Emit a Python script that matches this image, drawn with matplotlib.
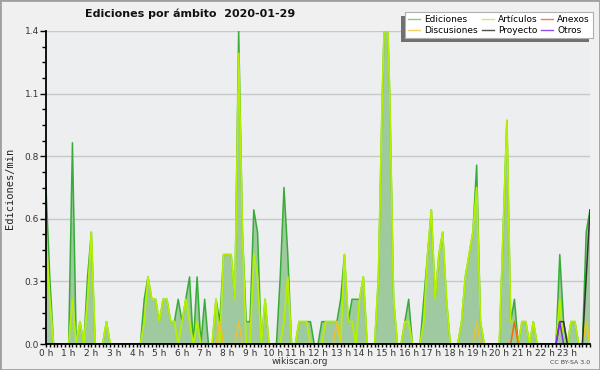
import numpy as np
import matplotlib.pyplot as plt
from matplotlib.lines import Line2D
from matplotlib.patches import Rectangle
from matplotlib.ticker import MultipleLocator, FormatStrFormatter, FixedLocator

# ediciones / min, one value every 10 minutes, from 00:00 to 24:00
ediciones = [
    0.7, 0.3, 0, 0, 0, 0,          # 0 h
    0, 0.9, 0, 0.1, 0, 0.3,        # 1 h
    0.5, 0, 0, 0, 0.1, 0,          # 2 h
    0, 0, 0, 0, 0, 0,              # 3 h
    0, 0, 0.2, 0.3, 0.2, 0.2,      # 4 h
    0.1, 0.2, 0.2, 0.1, 0.1, 0.2,  # 5 h
    0.1, 0.2, 0.3, 0, 0.3, 0,      # 6 h
    0.2, 0, 0, 0.2, 0.1, 0.4,      # 7 h
    0.4, 0.4, 0.2, 1.4, 0.5, 0.1,  # 8 h
    0.1, 0.6, 0.5, 0, 0.2, 0,      # 9 h
    0, 0, 0.3, 0.7, 0.4, 0,        # 10 h
    0, 0.1, 0.1, 0.1, 0.1, 0,      # 11 h
    0, 0.1, 0.1, 0.1, 0.1, 0.1,    # 12 h
    0.2, 0.4, 0.1, 0.2, 0.2, 0.2,  # 13 h
    0.3, 0, 0, 0, 0.3, 1.1,        # 14 h
    1.7, 1.1, 0.2, 0, 0, 0.1,      # 15 h
    0.2, 0, 0, 0, 0.2, 0.4,        # 16 h
    0.6, 0.2, 0.4, 0.5, 0.2, 0,    # 17 h
    0, 0, 0.1, 0.3, 0.4, 0.5,      # 18 h
    0.8, 0.1, 0, 0, 0, 0,          # 19 h
    0, 0.5, 1.0, 0.1, 0.2, 0,      # 20 h
    0.1, 0.1, 0, 0.1, 0, 0,        # 21 h
    0, 0, 0, 0, 0.4, 0.1,          # 22 h
    0, 0.1, 0.1, 0, 0, 0.5,        # 23 h
    0.6,
]

articulos = [
    0.5, 0.2, 0, 0, 0, 0,
    0, 0.2, 0, 0.1, 0, 0.2,
    0.5, 0, 0, 0, 0.1, 0,
    0, 0, 0, 0, 0, 0,
    0, 0, 0.1, 0.3, 0.2, 0.2,
    0.1, 0.2, 0.2, 0.1, 0.1, 0,
    0.1, 0.2, 0.1, 0, 0.1, 0,
    0, 0, 0, 0.2, 0, 0.4,
    0.4, 0.4, 0.2, 1.3, 0.5, 0,
    0, 0.4, 0.3, 0, 0.2, 0,
    0, 0, 0, 0.1, 0.3, 0,
    0, 0.1, 0.1, 0.1, 0, 0,
    0, 0, 0.1, 0.1, 0.1, 0.1,
    0, 0.4, 0.1, 0.1, 0, 0.2,
    0.3, 0, 0, 0, 0.3, 1.1,
    1.7, 1.1, 0.2, 0, 0, 0.1,
    0.1, 0, 0, 0, 0.1, 0.4,
    0.6, 0.2, 0.4, 0.5, 0.2, 0,
    0, 0, 0.1, 0.3, 0.4, 0.5,
    0.7, 0.1, 0, 0, 0, 0,
    0, 0.5, 1.0, 0.1, 0.1, 0,
    0.1, 0.1, 0, 0.1, 0, 0,
    0, 0, 0, 0, 0.2, 0,
    0, 0.1, 0.1, 0, 0, 0.1,
    0,
]

# the small series only have a few non-zero 10-minute slots
discusiones_slot = [46, 51, 77, 114, 143]
discusiones_val = [0.1, 0.1, 0.1, 0.1, 0.1]
anexos_slot = [124]
anexos_val = [0.1]
proyecto_slot = [136, 137, 143, 144]
proyecto_val = [0.1, 0.1, 0.3, 0.6]
otros_slot = [136]
otros_val = [0.1]

hour_labels = ['%d h' % h for h in range(24)]


def sparse(slots, vals):
    s = np.zeros(len(ediciones))
    s[slots] = vals
    return s


x = np.arange(len(ediciones)) / 6.0

fig = plt.figure(figsize=(6, 3.7), dpi=100, facecolor='#f0f0f0')
ax = fig.add_axes([46/600, 1-344/370, 544/600, 313/370])
ax.set_facecolor('#eceef0')

ax.fill_between(x, ediciones, color='#9fca9f', lw=0, zorder=1.5)
ax.plot(x, ediciones, color='#38ac38', lw=1.1)
ax.plot(x, articulos, color='#b4f000', lw=1.3)
ax.plot(x, sparse(discusiones_slot, discusiones_val), color='#f0c028', lw=1.1)
ax.plot(x, sparse(anexos_slot, anexos_val), color='#f06a10', lw=1.1)
ax.plot(x, sparse(proyecto_slot, proyecto_val), color='#333333', lw=1.1)
ax.plot(x, sparse(otros_slot, otros_val), color='#8a2be2', lw=1.1)

ax.set_xlim(0, 24)
ax.set_ylim(0, 1.4)

ax.yaxis.set_major_locator(FixedLocator([0, 0.28, 0.56, 0.84, 1.12, 1.4]))
ax.yaxis.set_major_formatter(FormatStrFormatter('%.1f'))
ax.yaxis.set_minor_locator(MultipleLocator(0.07))
ax.set_xticks(range(24))
ax.set_xticklabels(hour_labels)
ax.xaxis.set_minor_locator(MultipleLocator(1/6))

ax.tick_params(axis='y', which='major', length=4, width=1, labelsize=6.5,
               labelcolor='#333333', pad=1)
ax.tick_params(axis='y', which='minor', length=3, width=1)
ax.tick_params(axis='x', which='both', length=2.5, width=1, labelsize=6.5,
               labelcolor='#333333', pad=1)

ax.yaxis.grid(True, color='#c8c8c8', lw=1)
ax.set_axisbelow(True)
for s in ['top', 'right']:
    ax.spines[s].set_visible(False)
for s in ['left', 'bottom']:
    ax.spines[s].set_linewidth(1.3)
    ax.spines[s].set_zorder(3)

fig.text(85/600, 1-14/370, 'Ediciones por ámbito  2020-01-29',
         fontsize=8, weight='bold', va='center', color='#111111')
fig.text(10/600, 1-188/370, 'Ediciones/min', rotation=90, fontsize=7.5,
         family='DejaVu Sans Mono', va='center', ha='center', color='#222222')
fig.text(300/600, 1-361/370, 'wikiscan.org', fontsize=6.5, ha='center',
         va='center', color='#333333')
fig.text(590/600, 1-362/370, 'CC BY-SA 3.0', fontsize=4.5, ha='right',
         va='center', color='#444444')

# legend box: a dark shadow to the lower left, then a white box on top
shadow = fig.add_axes([401/600, 1-42/370, 188/600, 26/370])
shadow.set_facecolor('#707070')
shadow.set_xticks([])
shadow.set_yticks([])
for sp in shadow.spines.values():
    sp.set_visible(False)
shadow.set_zorder(4)

box = fig.add_axes([405/600, 1-38/370, 188/600, 26/370])
box.set_facecolor('white')
box.set_xticks([])
box.set_yticks([])
for sp in box.spines.values():
    sp.set_color('#b0b0b0')
    sp.set_linewidth(0.8)
box.set_zorder(5)

names = ['Ediciones', 'Discusiones', 'Artículos', 'Proyecto', 'Anexos', 'Otros']
cols = ['#80d080', '#f8d060', '#c8f070', '#505050', '#f08050', '#9050f0']
handles = [Line2D([], [], color=c, lw=1) for c in cols]
box.legend(handles, names, loc='center', ncol=3, fontsize=6.5,
           frameon=False, handlelength=1.35, handletextpad=0.45,
           columnspacing=0.4, labelspacing=0.15, borderpad=0,
           borderaxespad=0)

fig.patches.append(Rectangle((0, 0), 1, 1, transform=fig.transFigure,
                             fill=False, edgecolor='#a0a0a0', lw=2))

fig.savefig('out.png', dpi=100, facecolor=fig.get_facecolor())
